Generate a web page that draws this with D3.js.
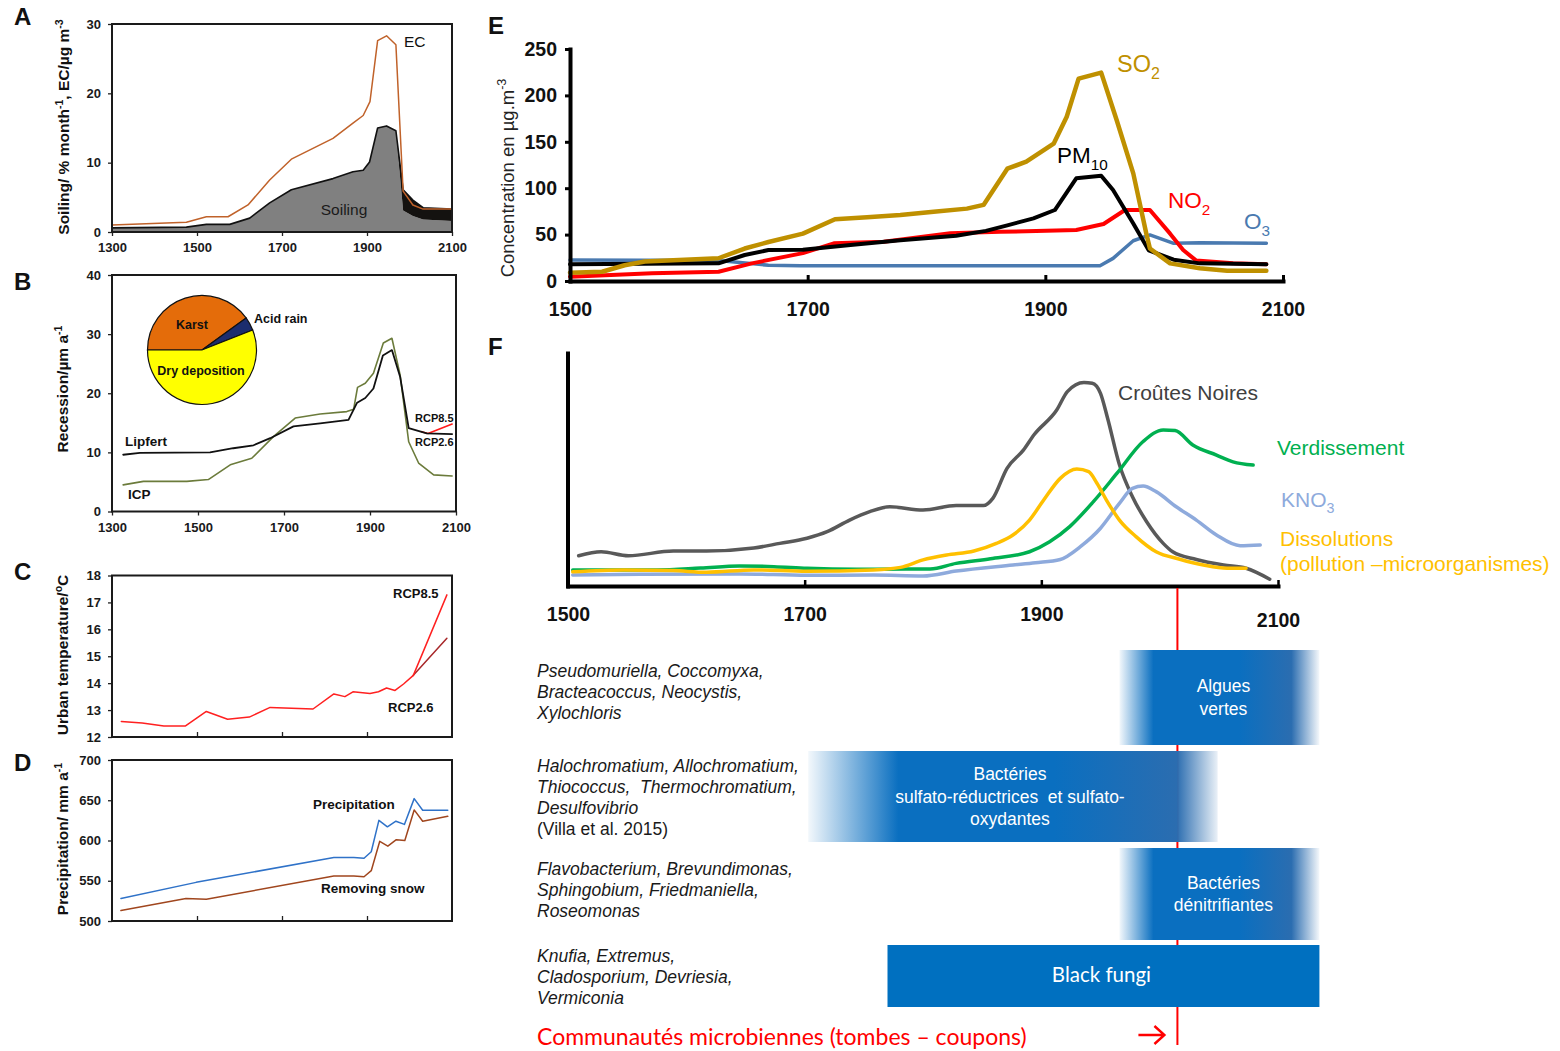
<!DOCTYPE html>
<html>
<head>
<meta charset="utf-8">
<script src="https://cdn.jsdelivr.net/npm/d3@7"></script>
<style>
  body { margin: 0; background: #fff; }
  svg { display: block; font-family: "Liberation Sans", Arial, sans-serif; }
</style>
</head>
<body>
<svg id="fig" width="1560" height="1051"></svg>
<script>
// ---------- Panel A: soiling and elemental carbon ----------
const ecYears = [1300, 1475, 1522, 1573, 1620, 1671, 1722, 1820, 1867, 1891, 1907, 1925, 1946, 1968, 1985, 2008, 2032, 2100];
const ecValues = [1.0, 1.4, 2.2, 2.2, 3.9, 7.5, 10.5, 13.5, 15.7, 16.8, 18.8, 27.6, 28.3, 27.0, 5.9, 3.9, 3.3, 3.3];
const soilingYears = [1300, 1475, 1522, 1577, 1624, 1671, 1722, 1820, 1867, 1891, 1906, 1925, 1946, 1968, 1985, 2008, 2032, 2100];
const soilingLow = [0.6, 0.7, 1.1, 1.1, 2.0, 4.2, 6.1, 7.7, 8.7, 8.9, 10.1, 15.0, 15.3, 14.6, 3.1, 2.3, 1.8, 1.6];
const soilingHigh = [0.6, 0.7, 1.1, 1.1, 2.0, 4.2, 6.1, 7.7, 8.7, 8.9, 10.1, 15.0, 15.3, 14.6, 6.1, 4.6, 3.5, 3.3];

// ---------- Panel B: recession ----------
const lipfertYears = [1326, 1365, 1528, 1582, 1629, 1668, 1722, 1784, 1850, 1870, 1889, 1908, 1930, 1951, 1970, 1990, 2032, 2091];
const lipfertValues = [9.6, 9.9, 10.0, 10.7, 11.2, 12.4, 14.4, 14.9, 15.5, 18.4, 19.2, 20.8, 26.4, 27.3, 22.8, 14.1, 13.2, 13.1];
const lipfertRcp85Years = [2020, 2035, 2091];
const lipfertRcp85Values = [13.5, 13.2, 14.8];
const icpYears = [1326, 1373, 1474, 1524, 1575, 1625, 1676, 1726, 1784, 1846, 1862, 1871, 1889, 1908, 1931, 1951, 1970, 1990, 2013, 2048, 2091];
const icpValues = [4.5, 5.1, 5.1, 5.4, 7.9, 9.0, 12.7, 15.8, 16.5, 16.9, 17.3, 21.0, 21.7, 23.4, 28.5, 29.3, 23.1, 11.8, 8.2, 6.2, 6.0];
const pieLabels = ["Karst", "Acid rain", "Dry deposition"];
const pieValues = [40, 4, 56];

// ---------- Panel C: urban temperature ----------
const tempYears = [1322, 1371, 1422, 1473, 1522, 1572, 1623, 1672, 1773, 1822, 1848, 1867, 1907, 1927, 1946, 1966, 1986, 2009];
const tempValues = [12.58, 12.52, 12.41, 12.41, 12.95, 12.66, 12.74, 13.10, 13.04, 13.60, 13.50, 13.68, 13.62, 13.68, 13.82, 13.73, 13.97, 14.29];
const tempRcpYears = [2009, 2088];
const tempRcp85 = [14.29, 17.28];
const tempRcp26 = [14.29, 15.67];

// ---------- Panel D: precipitation ----------
const precipYears = [1321, 1498, 1822, 1869, 1893, 1910, 1928, 1948, 1968, 1988, 2011, 2031, 2090];
const precipValues = [528, 548, 579, 579, 578, 586, 625, 617, 624, 620, 652, 637.5, 637.5];
const snowYears = [1321, 1474, 1522, 1822, 1869, 1893, 1910, 1930, 1949, 1969, 1989, 2011, 2031, 2090];
const snowValues = [513, 528, 527, 556, 556, 555, 562.5, 599, 593, 601, 600, 638, 624, 630];

// ---------- Panel E: concentrations (µg.m-3) ----------
const so2Years = [1500, 1527, 1546, 1563, 1625, 1647, 1667, 1696, 1723, 1750, 1778, 1806, 1834, 1848, 1868, 1884, 1907, 1918, 1928, 1947, 1960, 1974, 1985, 1988, 2005, 2030, 2053, 2086];
const so2Values = [9, 10, 17, 21, 24.5, 35, 42, 51, 66.5, 68.6, 71, 74.7, 78, 82, 121, 128.6, 148, 177, 218, 224.5, 173.5, 116, 51, 35, 19, 13.7, 11, 11];
const pm10Years = [1500, 1625, 1647, 1667, 1696, 1736, 1778, 1825, 1850, 1868, 1890, 1908, 1926, 1947, 1957, 1974, 1987, 2008, 2030, 2086];
const pm10Values = [18, 19, 28, 33.4, 33.7, 38.8, 44, 48.8, 54, 60, 67.5, 76.5, 110.7, 113.5, 98, 62, 33, 23, 19, 18];
const no2Years = [1500, 1569, 1625, 1653, 1696, 1722, 1764, 1820, 1862, 1926, 1949, 1967, 1988, 2005, 2016, 2027, 2058, 2086];
const no2Values = [4.7, 8.3, 10, 19, 30, 40.6, 42.4, 51.4, 53, 55, 61.4, 76.5, 76.5, 51, 33.4, 22, 19, 18];
const o3Years = [1500, 1625, 1667, 1694, 1834, 1946, 1957, 1974, 1988, 2008, 2030, 2086];
const o3Values = [22.6, 22, 17, 16.5, 16.5, 16.5, 24.4, 43.4, 49.6, 40.6, 41.3, 40.6];
const concTicks = [0, 50, 100, 150, 200, 250];
const yearTicks = [1500, 1700, 1900, 2100];

// ---------- Panel F: qualitative trends (arbitrary units) ----------
const crouteYears = [1509, 1528, 1551, 1589, 1617, 1657, 1679, 1702, 1719, 1738, 1755, 1772, 1800, 1828, 1851, 1859, 1871, 1885, 1894, 1913, 1922, 1936, 1943, 1950, 1956, 1966, 1977, 1989, 2003, 2011, 2031, 2054, 2073, 2093];
const crouteValues = [13, 14.7, 13, 15, 15, 16.3, 18.3, 20.5, 23.3, 28.3, 31.9, 34, 32.6, 34.5, 34.5, 37.6, 50.5, 58.4, 65, 75.5, 83.4, 87.3, 87, 82.7, 72, 52, 38.3, 27.6, 18.3, 14.7, 11.4, 9, 7.6, 2.9];
const verdYears = [1504, 1533, 1575, 1612, 1645, 1674, 1702, 1744, 1786, 1806, 1828, 1857, 1890, 1907, 1924, 1944, 1964, 1986, 2003, 2013, 2028, 2048, 2062, 2079];
const verdValues = [6.9, 6.9, 6.9, 7.7, 8.6, 8.3, 7.6, 7.2, 7.3, 7.3, 9.7, 11.7, 14.7, 19, 25.5, 36.2, 48.4, 62, 67, 66.7, 60.5, 56.2, 53.3, 51.9];
const kno3Years = [1504, 1561, 1645, 1702, 1758, 1800, 1828, 1876, 1895, 1916, 1933, 1950, 1966, 1977, 1986, 1997, 2014, 2031, 2048, 2068, 2085];
const kno3Values = [4.7, 5, 5.2, 4.6, 4.7, 4.3, 6.4, 9, 10, 11.4, 16.9, 24.8, 35.5, 41.9, 42.9, 40.5, 34, 28.3, 21.9, 17.3, 17.6];
const dissYears = [1504, 1547, 1589, 1617, 1657, 1702, 1758, 1781, 1800, 1820, 1843, 1862, 1876, 1890, 1902, 1916, 1930, 1940, 1947, 1955, 1966, 1980, 1997, 2017, 2037, 2057, 2073];
const dissValues = [6.1, 6.9, 6.6, 5.9, 6.9, 6.3, 6.9, 8, 11.2, 13.3, 15, 18.3, 21.9, 28.3, 36.9, 46.2, 50.2, 49.1, 44.1, 36.9, 28.3, 21.2, 14.7, 11.5, 9, 7.6, 7.6];

// ---------- Microbial communities (year spans on panel F's axis) ----------
const microbeNames = [["Algues", "vertes"], ["Bactéries", "sulfato-réductrices\u00a0 et sulfato-", "oxydantes"], ["Bactéries", "dénitrifiantes"], ["Black fungi"]];
const microbeStart = [1966, 1703, 1966, 1770];
const microbeEnd = [2135, 2049, 2135, 2135];
const microbeGenera = [
  ["Pseudomuriella, Coccomyxa,", "Bracteacoccus, Neocystis,", "Xylochloris"],
  ["Halochromatium, Allochromatium,", "Thiococcus,\u00a0 Thermochromatium,", "Desulfovibrio", "(Villa et al. 2015)"],
  ["Flavobacterium, Brevundimonas,", "Sphingobium, Friedmaniella,", "Roseomonas"],
  ["Knufia, Extremus,", "Cladosporium, Devriesia,", "Vermiconia"]
];
const samplingYear = 2015;

const svg = d3.select("#fig");
const FONT = "'Liberation Sans', Arial, sans-serif";

// text with sub/superscripts: parts = [[text, "sup"|"sub"|undefined], ...]
function rich(text, parts, size) {
  let shift = 0;
  parts.forEach(([t, kind]) => {
    const target = kind === "sup" ? -0.42 * size : kind === "sub" ? 0.3 * size : 0;
    text.append("tspan")
      .attr("dy", target - shift)
      .attr("font-size", kind ? size * 0.68 : size)
      .text(t);
    shift = target;
  });
  return text;
}

function drawLine(g, x, y, xs, ys, color, width, curve) {
  return g.append("path")
    .datum(d3.zip(xs, ys))
    .attr("fill", "none")
    .attr("stroke", color)
    .attr("stroke-width", width)
    .attr("stroke-linejoin", "round")
    .attr("stroke-linecap", "round")
    .attr("d", d3.line().x(d => x(d[0])).y(d => y(d[1])).curve(curve || d3.curveLinear));
}

function label(x, y, txt, size, opts = {}) {
  return svg.append("text")
    .attr("x", x).attr("y", y)
    .attr("font-size", size)
    .attr("font-weight", opts.bold ? "bold" : null)
    .attr("font-style", opts.italic ? "italic" : null)
    .attr("font-family", opts.font || FONT)
    .attr("text-anchor", opts.anchor || "start")
    .attr("fill", opts.color || "#111")
    .text(txt);
}

// Small framed panel (A-D) with a 1300-2100 year axis
function smallPanel({left, right, top, bottom, yDomain, yTicks, xLabels}) {
  const x = d3.scaleLinear().domain([1300, 2100]).range([left, right]);
  const y = d3.scaleLinear().domain(yDomain).range([bottom, top]);
  const g = svg.append("g");

  g.append("g").attr("class", "sax")
    .attr("transform", `translate(${left},0)`)
    .call(d3.axisLeft(y).tickValues(yTicks).tickFormat(d3.format("d")).tickSize(4).tickPadding(7));

  const xAxis = xLabels
    ? d3.axisBottom(x).tickValues([1300, 1500, 1700, 1900, 2100]).tickFormat(d3.format("d")).tickSize(4).tickPadding(7)
    : d3.axisBottom(x).tickValues([1500, 1700, 1900]).tickSizeInner(-5).tickSizeOuter(0).tickFormat("");
  g.append("g").attr("class", "sax")
    .attr("transform", `translate(0,${bottom})`)
    .call(xAxis);

  g.selectAll(".sax .domain").remove();
  g.selectAll(".sax text")
    .attr("font-size", 13).attr("font-weight", "bold")
    .attr("font-family", FONT).attr("fill", "#1a1a1a");
  g.selectAll(".sax line").attr("stroke", "#222").attr("stroke-width", 1.3);

  const plot = g.append("g");
  g.append("rect")
    .attr("x", left).attr("y", top)
    .attr("width", right - left).attr("height", bottom - top)
    .attr("fill", "none").attr("stroke", "#1a1a1a").attr("stroke-width", 2);
  return {plot, x, y};
}

function yTitle(x, yc, parts) {
  rich(svg.append("text")
    .attr("transform", `translate(${x},${yc}) rotate(-90)`)
    .attr("text-anchor", "middle")
    .attr("font-weight", "bold")
    .attr("fill", "#111"), parts, 15.5);
}

// ================= Panel A =================
{
  const {plot, x, y} = smallPanel({left: 112, right: 452, top: 24, bottom: 232, yDomain: [0, 30], yTicks: [0, 10, 20, 30], xLabels: true});
  const soil = d3.zip(soilingYears, soilingLow, soilingHigh);
  plot.append("path").datum(soil)
    .attr("fill", "#808080")
    .attr("d", d3.area().x(d => x(d[0])).y0(y(0)).y1(d => y(d[1])));
  plot.append("path").datum(soil)
    .attr("fill", "#141210")
    .attr("d", d3.area().x(d => x(d[0])).y0(d => y(d[1])).y1(d => y(d[2])));
  drawLine(plot, x, y, soilingYears, soilingHigh, "#111", 1.6);
  drawLine(plot, x, y, ecYears, ecValues, "#c0622a", 1.5);
  label(404, 47, "EC", 15.5);
  label(344, 215, "Soiling", 15.5, {anchor: "middle", color: "#1a1a1a"});
  yTitle(69, 127, [["Soiling/ % month"], ["-1", "sup"], [", EC/\u00b5g m"], ["-3", "sup"]]);
  label(14, 25, "A", 24, {bold: true});
}

// ================= Panel B =================
{
  const {plot, x, y} = smallPanel({left: 112, right: 456, top: 275, bottom: 511.5, yDomain: [0, 40], yTicks: [0, 10, 20, 30, 40], xLabels: true});
  drawLine(plot, x, y, icpYears, icpValues, "#6b7b3b", 1.6);
  drawLine(plot, x, y, lipfertRcp85Years, lipfertRcp85Values, "#ff1a1a", 1.6);
  drawLine(plot, x, y, lipfertYears, lipfertValues, "#111", 1.8);

  const pie = d3.pie().sort(null).startAngle(-Math.PI / 2).endAngle(1.5 * Math.PI);
  const arc = d3.arc().innerRadius(0).outerRadius(54.5);
  const pieColors = ["#e46c0a", "#1c2d6e", "#ffff00"];
  plot.append("g").attr("transform", "translate(202,350)")
    .selectAll("path").data(pie(pieValues)).join("path")
    .attr("d", arc)
    .attr("fill", (d, i) => pieColors[i])
    .attr("stroke", "#111").attr("stroke-width", 1.2);

  label(192, 329, pieLabels[0], 12.5, {bold: true, anchor: "middle"});
  label(254, 323, pieLabels[1], 12.5, {bold: true});
  label(201, 375, pieLabels[2], 12.5, {bold: true, anchor: "middle"});
  label(125, 446, "Lipfert", 13.5, {bold: true});
  label(128, 499, "ICP", 13.5, {bold: true});
  label(415, 422, "RCP8.5", 11, {bold: true});
  label(415, 446, "RCP2.6", 11, {bold: true});
  yTitle(68, 389, [["Recession/\u00b5m a"], ["-1", "sup"]]);
  label(14, 290, "B", 24, {bold: true});
}

// ================= Panel C =================
{
  const {plot, x, y} = smallPanel({left: 112, right: 452, top: 575.5, bottom: 737, yDomain: [12, 18], yTicks: [12, 13, 14, 15, 16, 17, 18], xLabels: false});
  drawLine(plot, x, y, tempRcpYears, tempRcp26, "#a8282a", 1.5);
  drawLine(plot, x, y, tempRcpYears, tempRcp85, "#ff2020", 1.5);
  drawLine(plot, x, y, tempYears, tempValues, "#ff2020", 1.5);
  label(393, 598, "RCP8.5", 13, {bold: true});
  label(388, 712, "RCP2.6", 13, {bold: true});
  yTitle(68, 655, [["Urban temperature/"], ["o", "sup"], ["C"]]);
  label(14, 580, "C", 24, {bold: true});
}

// ================= Panel D =================
{
  const {plot, x, y} = smallPanel({left: 112, right: 452, top: 760, bottom: 921, yDomain: [500, 700], yTicks: [500, 550, 600, 650, 700], xLabels: false});
  drawLine(plot, x, y, precipYears, precipValues, "#2f72c8", 1.5);
  drawLine(plot, x, y, snowYears, snowValues, "#a0461e", 1.5);
  label(313, 809, "Precipitation", 13.5, {bold: true});
  label(321, 893, "Removing snow", 13.5, {bold: true});
  yTitle(68, 839, [["Precipitation/ mm a"], ["-1", "sup"]]);
  label(14, 771, "D", 24, {bold: true});
}

// ================= Panel E =================
{
  const x = d3.scaleLinear().domain([1500, 2100]).range([570, 1283]);
  const y = d3.scaleLinear().domain([0, 250]).range([281, 49]);
  const g = svg.append("g");

  drawLine(g, x, y, o3Years, o3Values, "#4a7ab0", 3.5);
  drawLine(g, x, y, no2Years, no2Values, "#ff0000", 4);
  drawLine(g, x, y, pm10Years, pm10Values, "#000", 4);
  drawLine(g, x, y, so2Years, so2Values, "#bf9000", 4.5);

  const ax = g.append("g").attr("class", "eax");
  ax.append("g").attr("transform", "translate(0,281)")
    .call(d3.axisBottom(x).tickValues(yearTicks).tickFormat(d3.format("d"))
      .tickSizeInner(-6).tickSizeOuter(0).tickPadding(21));
  ax.append("g").attr("transform", "translate(570,0)")
    .call(d3.axisLeft(y).tickValues(concTicks).tickSizeInner(5).tickSizeOuter(0).tickPadding(8));
  ax.selectAll(".domain").attr("stroke", "#000").attr("stroke-width", 4).attr("stroke-linecap", "square");
  ax.selectAll("line").attr("stroke", "#000").attr("stroke-width", 3);
  ax.selectAll("text").attr("font-size", 19.5).attr("font-weight", "bold")
    .attr("font-family", FONT).attr("fill", "#111");

  rich(svg.append("text")
    .attr("transform", "translate(514,178) rotate(-90)")
    .attr("text-anchor", "middle").attr("fill", "#222"),
    [["Concentration en \u00b5g.m"], ["-3", "sup"]], 18.5);

  rich(label(1117, 72, "", 23.5, {color: "#bf9000"}), [["SO"], ["2", "sub"]], 23.5);
  rich(label(1057, 163, "", 22.5, {color: "#000"}), [["PM"], ["10", "sub"]], 22.5);
  rich(label(1168, 208, "", 22.5, {color: "#ff0000"}), [["NO"], ["2", "sub"]], 22.5);
  rich(label(1244, 229, "", 22.5, {color: "#4a7ab0"}), [["O"], ["3", "sub"]], 22.5);
  label(488, 34, "E", 24, {bold: true});
}

// ================= Panel F =================
const xF = d3.scaleLinear().domain([1500, 2100]).range([568, 1278]);
{
  const y = d3.scaleLinear().domain([0, 100]).range([586, 353]);
  const g = svg.append("g");
  const smooth = d3.curveMonotoneX;

  // red sampling line behind everything below the axis
  svg.append("line")
    .attr("x1", xF(samplingYear)).attr("x2", xF(samplingYear))
    .attr("y1", 588).attr("y2", 1045)
    .attr("stroke", "#ff0000").attr("stroke-width", 2);

  drawLine(g, xF, y, crouteYears, crouteValues, "#595959", 3.5, smooth);
  drawLine(g, xF, y, kno3Years, kno3Values, "#8eaadc", 3.5, smooth);
  drawLine(g, xF, y, verdYears, verdValues, "#00b050", 3.5, smooth);
  drawLine(g, xF, y, dissYears, dissValues, "#ffc000", 3.5, smooth);

  const ax = g.append("g");
  ax.append("g").attr("transform", "translate(0,586)")
    .call(d3.axisBottom(xF).tickValues(yearTicks).tickFormat(d3.format("d"))
      .tickSizeInner(-6).tickSizeOuter(0).tickPadding(21));
  ax.append("g").attr("transform", "translate(567.5,0)")
    .call(d3.axisLeft(y).tickValues([]).tickSizeOuter(0));
  ax.selectAll(".domain").attr("stroke", "#000").attr("stroke-width", 4).attr("stroke-linecap", "square");
  ax.selectAll("line").attr("stroke", "#000").attr("stroke-width", 2.5);
  ax.selectAll("text").attr("font-size", 19.5).attr("font-weight", "bold")
    .attr("font-family", FONT).attr("fill", "#111");
  ax.selectAll(".tick text").filter(d => d === 2100).attr("dy", "1em");

  label(1118, 400, "Croûtes Noires", 21, {color: "#404040"});
  label(1277, 455, "Verdissement", 21, {color: "#00b050"});
  rich(label(1281, 507, "", 21, {color: "#8eaadc"}), [["KNO"], ["3", "sub"]], 21);
  label(1280, 546, "Dissolutions", 21, {color: "#ffc000"});
  label(1280, 571, "(pollution \u2013microorganismes)", 21, {color: "#ffc000"});
  label(488, 355, "F", 24, {bold: true});
}

// ================= Microbial communities =================
{
  const defs = svg.append("defs");
  const blue = "#0a6fc0", blueEnd = "#2b6db0";
  function grad(id, stops) {
    const lg = defs.append("linearGradient").attr("id", id).attr("x1", 0).attr("x2", 1).attr("y1", 0).attr("y2", 0);
    stops.forEach(([o, c, a]) => lg.append("stop").attr("offset", o).attr("stop-color", c).attr("stop-opacity", a));
  }
  grad("fadeShort", [[0, blue, 0.05], [0.17, blue, 1], [0.6, blue, 1], [0.86, blueEnd, 1], [1, blueEnd, 0.05]]);
  grad("fadeLong", [[0, blue, 0.05], [0.22, blue, 1], [0.6, blue, 1], [0.9, blueEnd, 1], [1, blueEnd, 0.1]]);

  const rowTop = [650, 751, 848, 945];
  const rowHeight = [95, 91, 92, 62];
  const fills = ["url(#fadeShort)", "url(#fadeLong)", "url(#fadeShort)", "#0070c0"];
  const g = svg.append("g");

  microbeNames.forEach((lines, i) => {
    const x0 = xF(microbeStart[i]), x1 = xF(microbeEnd[i]);
    g.append("rect")
      .attr("x", x0).attr("y", rowTop[i])
      .attr("width", x1 - x0).attr("height", rowHeight[i])
      .attr("fill", fills[i]);
    const cx = (x0 + x1) / 2 + (i === 1 ? -3 : i === 3 ? -2 : 4), cy = rowTop[i] + rowHeight[i] / 2;
    const isFungi = i === 3;
    const step = 22.5;
    lines.forEach((t, k) => {
      g.append("text")
        .attr("x", cx)
        .attr("y", cy + (k - (lines.length - 1) / 2) * step + 6)
        .attr("text-anchor", "middle")
        .attr("font-family", isFungi ? "Lato, 'Open Sans', sans-serif" : "'Liberation Sans Narrow', 'Liberation Sans', Arial, sans-serif")
        .attr("font-size", isFungi ? 20.5 : 17.5)
        .attr("fill", "#fff")
        .text(t);
    });
  });

  const generaTop = [677, 772, 875, 962];
  microbeGenera.forEach((lines, i) => {
    lines.forEach((t, k) => {
      label(537, generaTop[i] + k * 21, t, 17.5, {italic: !t.startsWith("("), color: "#1a1a1a"});
    });
  });

  // red caption and arrow pointing at the sampling line
  label(537, 1045, "Communautés microbiennes (tombes \u2013 coupons)", 23, {font: "Lato, 'Open Sans', sans-serif", color: "#ff0000"});
  const xs = xF(samplingYear);
  g.append("path")
    .attr("d", `M${xs - 39},1035 H${xs - 14} M${xs - 23},1026 L${xs - 13},1035 L${xs - 23},1044`)
    .attr("fill", "none").attr("stroke", "#ff0000").attr("stroke-width", 2.4);
}
</script>
</body>
</html>
